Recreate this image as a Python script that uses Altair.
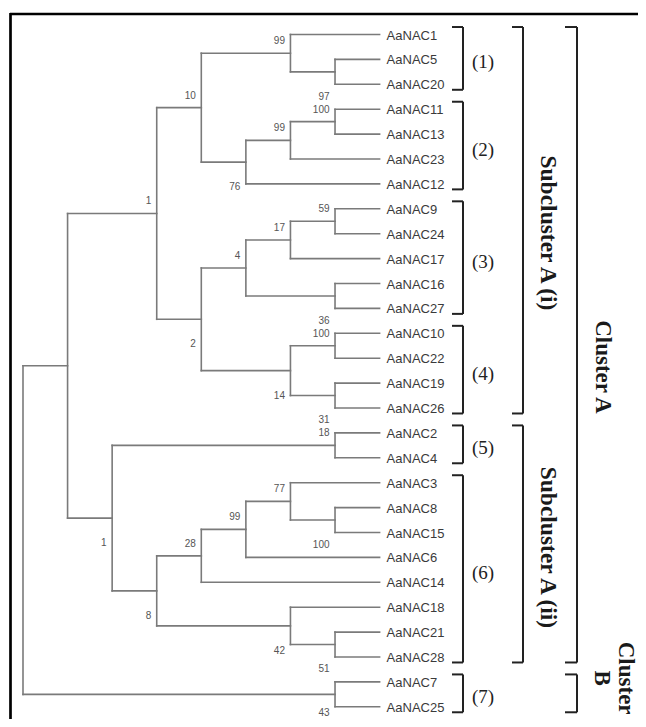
import altair as alt
import pandas as pd

# ---------------- data ----------------
node_ids = ["n1", "n2", "n3", "n4", "n5", "n6", "n7", "n8", "n9", "n10", "n11", "n12", "n13", "n14", "n15",
            "n16", "n17", "n18", "n19", "n20", "n21", "n22", "n23", "n24", "n25", "n26", "root"]
node_left = ["AaNAC5", "AaNAC1", "AaNAC11", "n3", "n4", "n2", "AaNAC9", "n7", "AaNAC16", "n8", "AaNAC10",
             "AaNAC19", "n11", "n10", "n6", "AaNAC2", "AaNAC8", "AaNAC3", "n18", "n19", "AaNAC21", "AaNAC18",
             "n20", "n16", "n15", "AaNAC7", "n25"]
node_right = ["AaNAC20", "n1", "AaNAC13", "AaNAC23", "AaNAC12", "n5", "AaNAC24", "AaNAC17", "AaNAC27", "n9",
              "AaNAC22", "AaNAC26", "n12", "n13", "n14", "AaNAC4", "AaNAC15", "n17", "AaNAC6", "AaNAC14",
              "AaNAC28", "n21", "n22", "n23", "n24", "AaNAC25", "n26"]

support_node = ["n2", "n3", "n3", "n4", "n5", "n6", "n7", "n8", "n10", "n11", "n11", "n13", "n14", "n15",
                "n16", "n16", "n17", "n18", "n19", "n20", "n22", "n23", "n24", "n26", "n26"]
support_value = [99, 100, 97, 99, 76, 10, 59, 17, 4, 100, 36, 14, 2, 1,
                 18, 31, 100, 77, 99, 28, 42, 8, 1, 51, 43]
support_place = ["above", "above", "above2", "above", "below", "above", "above", "above", "above", "above",
                 "above2", "below", "below", "above", "above", "above2", "below", "above", "above", "above",
                 "below", "below", "below", "above2", "low"]

group_names = ["(1)", "(2)", "(3)", "(4)", "(5)", "(6)", "(7)"]
group_first = ["AaNAC1", "AaNAC11", "AaNAC9", "AaNAC10", "AaNAC2", "AaNAC3", "AaNAC7"]
group_last = ["AaNAC20", "AaNAC12", "AaNAC27", "AaNAC26", "AaNAC4", "AaNAC28", "AaNAC25"]

sub_names = ["Subcluster A (i)", "Subcluster A (ii)"]
sub_first = ["AaNAC1", "AaNAC2"]
sub_last = ["AaNAC26", "AaNAC28"]
sub_label_at = [7.97, 20.6]

cluster_names = ["Cluster A", "Cluster\nB"]
cluster_first = ["AaNAC1", "AaNAC7"]
cluster_last = ["AaNAC28", "AaNAC25"]
cluster_label_at = [13.35, 25.85]

# ---------------- layout from tree structure ----------------
kids = {n: (l, r) for n, l, r in zip(node_ids, node_left, node_right)}
leaves = []


def walk(n):
    if n in kids:
        for c in kids[n]:
            walk(c)
    else:
        leaves.append(n)


walk("root")
ypos = {name: i for i, name in enumerate(leaves)}
hgt = {}


def h(n):
    if n not in kids:
        hgt[n] = 0
        return 0
    v = 1 + max(h(c) for c in kids[n])
    hgt[n] = v
    return v


H = h("root")
ny = {}


def gy(n):
    if n not in kids:
        ny[n] = ypos[n]
    else:
        l, r = kids[n]
        ny[n] = (gy(l) + gy(r)) / 2
    return ny[n]


gy("root")
nx = {n: H - hgt[n] for n in hgt}

segs = []
for n in node_ids:
    l, r = kids[n]
    segs.append(dict(x=nx[n], x2=nx[n], y=ny[l], y2=ny[r]))
    for c in (l, r):
        segs.append(dict(x=nx[n], x2=nx[c], y=ny[c], y2=ny[c]))
seg_df = pd.DataFrame(segs)

leaf_df = pd.DataFrame({"name": leaves, "x": [nx[n] for n in leaves], "y": [ypos[n] for n in leaves]})
sup_df = pd.DataFrame({"node": support_node, "value": [str(v) for v in support_value],
                       "place": support_place,
                       "x": [nx[n] for n in support_node], "y": [ny[n] for n in support_node]})


def brackets(names, first, last, at=None):
    rows = []
    for i, (nm, f, la) in enumerate(zip(names, first, last)):
        top = ypos[f] - 0.3
        bot = ypos[la] + 0.22
        mid = at[i] if at else (ypos[f] + ypos[la]) / 2 + 0.12
        rows.append(dict(name=nm, top=top, bot=bot, mid=mid))
    return pd.DataFrame(rows)


grp_df = brackets(group_names, group_first, group_last)
sub_df = brackets(sub_names, sub_first, sub_last, sub_label_at)
clu_df = brackets(cluster_names, cluster_first, cluster_last, cluster_label_at)

# ---------------- scales ----------------
xs = alt.Scale(domain=[0, H], range=[15, 371.6], nice=False, zero=False)
ys = alt.Scale(domain=[0, len(leaves) - 1], range=[26.5, 698.8], nice=False, zero=False)
X = lambda f: alt.X(f, type="quantitative", scale=xs, axis=None)
Y = lambda f: alt.Y(f, type="quantitative", scale=ys, axis=None)

layers = []

tree = alt.Chart(seg_df).mark_rule(color="#7a7a7a", strokeWidth=1.6, strokeCap="square").encode(
    x=X("x"), x2="x2", y=Y("y"), y2="y2")
layers.append(tree)

leaf_txt = alt.Chart(leaf_df).mark_text(align="left", baseline="middle", dx=7, dy=1, fontSize=13,
                                        font="Liberation Sans", color="#3a3a3a").encode(
    x=X("x"), y=Y("y"), text="name:N")
layers.append(leaf_txt)

for place, dy in [("above", -12), ("above2", -25), ("below", 25), ("low", 19)]:
    layers.append(
        alt.Chart(sup_df).transform_filter(alt.datum.place == place).mark_text(
            align="right", baseline="middle", dx=-5.5, dy=dy, fontSize=10, font="Liberation Sans",
            color="#555555").encode(x=X("x"), y=Y("y"), text="value:N"))

bracket_style = dict(color="#222222", strokeWidth=2)
for df, vx, tick in [(grp_df, 455, 11), (sub_df, 515, 11), (clu_df, 569, 12)]:
    base = alt.Chart(df)
    layers.append(base.mark_rule(**bracket_style).encode(x=alt.value(vx), y=Y("top"), y2="bot"))
    layers.append(base.mark_rule(**bracket_style).encode(x=alt.value(vx - tick), x2=alt.value(vx), y=Y("top")))
    layers.append(base.mark_rule(**bracket_style).encode(x=alt.value(vx - tick), x2=alt.value(vx), y=Y("bot")))

layers.append(alt.Chart(grp_df).mark_text(align="center", baseline="middle", fontSize=19,
                                          font="Liberation Serif", color="#222222").encode(
    x=alt.value(475), y=Y("mid"), text="name:N"))

layers.append(alt.Chart(sub_df).mark_text(align="center", baseline="middle", angle=90, fontSize=23.5,
                                          fontWeight="bold", font="Liberation Serif", color="#1a1a1a").encode(
    x=alt.value(540), y=Y("mid"), text="name:N"))

for i, cx in enumerate([595, 618]):
    layers.append(alt.Chart(clu_df.iloc[[i]]).mark_text(
        align="center", baseline="middle", angle=90, fontSize=23, fontWeight="bold",
        font="Liberation Serif", color="#1a1a1a", lineBreak="\n", lineHeight=24).encode(
        x=alt.value(cx), y=Y("mid"), text="name:N"))

frame_df = pd.DataFrame({"k": [0]})
layers.append(alt.Chart(frame_df).mark_rule(color="#000000", strokeWidth=2.7).encode(
    x=alt.value(2), x2=alt.value(660), y=alt.value(6)))
layers.append(alt.Chart(frame_df).mark_rule(color="#000000", strokeWidth=2.7).encode(
    x=alt.value(2.5), y=alt.value(5), y2=alt.value(740)))

chart = alt.layer(*layers).properties(
    width=630, height=711, padding=0,
    autosize=alt.AutoSizeParams(type="none"),
).configure_view(stroke=None)

chart.save("out.html", embed_options={"renderer": "svg", "actions": False})
